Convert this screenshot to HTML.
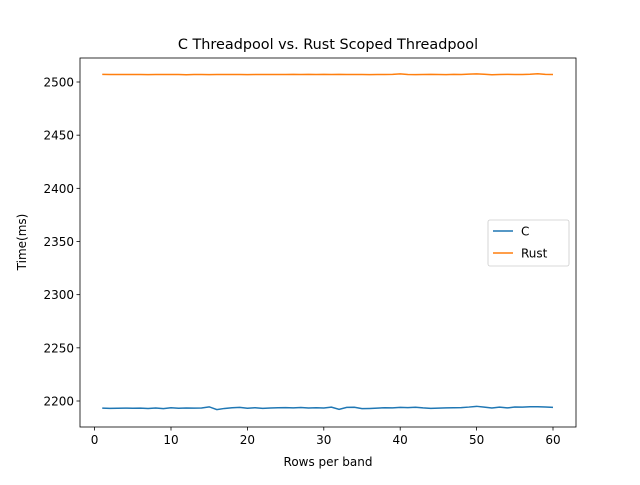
<!DOCTYPE html>
<html><head><meta charset="utf-8"><style>
body{margin:0;background:#fff}
text{font-family:"DejaVu Sans","Liberation Sans",sans-serif;fill:#000}
</style></head><body>
<svg width="640" height="480" id="s">
<rect width="640" height="480" fill="#fff"/>
<g id="plot"></g>
</svg>
<script>
const xs=[];for(let i=1;i<=60;i++)xs.push(i);
const cVals=[2193.3,2193.1,2193.2,2193.3,2193.2,2193.3,2193.0,2193.4,2192.8,2193.6,2193.2,2193.4,2193.3,2193.4,2194.5,2191.9,2193.0,2193.6,2194.0,2193.2,2193.7,2193.1,2193.4,2193.6,2193.8,2193.5,2193.9,2193.4,2193.6,2193.4,2194.2,2192.1,2194.0,2194.1,2192.8,2193.0,2193.3,2193.7,2193.5,2194.0,2193.8,2194.1,2193.5,2193.1,2193.3,2193.5,2193.6,2193.8,2194.3,2195.0,2194.2,2193.4,2194.2,2193.5,2194.3,2194.2,2194.6,2194.6,2194.3,2194.0];
const rustVals=[2507.2,2507.0,2507.0,2507.0,2507.1,2507.0,2506.9,2507.1,2507.0,2507.1,2507.0,2506.8,2507.0,2507.0,2506.9,2507.1,2507.0,2507.0,2507.1,2506.9,2507.0,2507.0,2507.0,2507.1,2507.0,2507.2,2507.1,2507.2,2507.1,2507.2,2507.1,2507.2,2507.0,2507.1,2507.0,2506.9,2507.0,2507.0,2507.2,2507.6,2507.1,2506.9,2507.1,2507.2,2507.0,2506.9,2507.2,2507.1,2507.4,2507.6,2507.3,2506.8,2507.1,2507.2,2507.1,2507.1,2507.3,2507.7,2507.2,2507.0];
const xTicks=[0,10,20,30,40,50,60];
const yTicks=[2200,2250,2300,2350,2400,2450,2500];
const L=80,R=576,T=58,B=427;
const X=v=>94.6+(v-0)*7.64;
const Y=v=>401-(v-2200)*(319/300);
const ns="http://www.w3.org/2000/svg",g=document.getElementById('plot');
function mk(t,a,txt){const e=document.createElementNS(ns,t);for(const k in a)e.setAttribute(k,a[k]);if(txt!==undefined)e.textContent=txt;g.appendChild(e);return e;}
xTicks.forEach(v=>{const x=X(v);
const t=mk('line',{x1:x,x2:x,y1:B,y2:B+3.5,stroke:'#000','stroke-width':0.8});

const l=mk('text',{x:x,y:B+17,'text-anchor':'middle','font-size':12},v);
});
yTicks.forEach(v=>{const y=Y(v);
const t=mk('line',{x1:L-3.5,x2:L,y1:y,y2:y,stroke:'#000','stroke-width':0.8});

const l=mk('text',{x:L-6,y:y+4.5,'text-anchor':'end','font-size':12},v);
});
function line(vals,color,name){const p=mk('polyline',{points:xs.map((x,i)=>X(x)+','+Y(vals[i])).join(' '),fill:'none',stroke:color,'stroke-width':1.5});
}
line(cVals,'#1f77b4','series-c');
line(rustVals,'#ff7f0e','series-rust');
const f=mk('rect',{x:L,y:T,width:R-L,height:B-T,fill:'none',stroke:'#000','stroke-width':0.8});

const ti=mk('text',{x:328,y:49,'text-anchor':'middle','font-size':14.4},'C Threadpool vs. Rust Scoped Threadpool');

const xl=mk('text',{x:328,y:466,'text-anchor':'middle','font-size':12},'Rows per band');

const yl=mk('text',{x:26,y:242,'text-anchor':'middle','font-size':12,transform:'rotate(-90 26 242)'},'Time(ms)');

const lg=mk('rect',{x:488,y:220,width:81,height:46,rx:2,fill:'#fff',stroke:'#ccc','stroke-width':0.8});

[['C','#1f77b4',231],['Rust','#ff7f0e',253]].forEach(([n,c,y])=>{
const s=mk('line',{x1:493,x2:513,y1:y,y2:y,stroke:c,'stroke-width':1.5});

const t=mk('text',{x:521,y:y+4.5,'font-size':12},n);
});
</script>
</body></html>
